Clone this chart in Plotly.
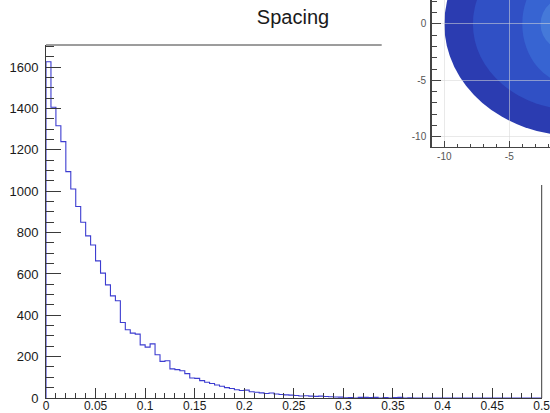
import plotly.graph_objects as go

# ---------------- data ----------------
bin_low = 0.0
bin_high = 0.5
n_bins = 100
counts = [
    1626, 1406, 1317, 1240, 1095, 1011, 926, 850, 784, 740,
    663, 604, 547, 494, 470, 365, 330, 314, 309, 257,
    246, 262, 209, 177, 180, 141, 137, 132, 118, 97,
    95, 84, 76, 70, 63, 57, 50, 46, 40, 36,
    38, 30, 28, 25, 22, 24, 19, 17, 15, 14,
    12, 10, 11, 9, 8, 9, 7, 6, 5, 4,
    1, 2, 0, 3, 3, 2, 3, 0, 2, 0,
    2, 3, 0, 1, 0, 0, 0, 0, 0, 0,
    0, 0, 0, 0, 0, 0, 0, 0, 0, 0,
    0, 0, 0, 0, 0, 0, 0, 0, 0, 0,
]
x_tickvals = [0, 0.05, 0.1, 0.15, 0.2, 0.25, 0.3, 0.35, 0.4, 0.45, 0.5]
x_ticktext = ["0", "0.05", "0.1", "0.15", "0.2", "0.25", "0.3", "0.35", "0.4", "0.45", "0.5"]
y_tickvals = [0, 200, 400, 600, 800, 1000, 1200, 1400, 1600]
y_ticktext = ["0", "200", "400", "600", "800", "1000", "1200", "1400", "1600"]
title_text = "Spacing"

# inset (2D contour, partly visible): band half-widths (x, y) and colours
inset_rx = [10.0, 7.8, 4.0, 2.6]
inset_ry = [9.9, 7.6, 5.4, 2.6]
inset_colors = ["#2b3cb1", "#3050c5", "#3764d2", "#4579d9"]
inset_tickvals = [-10, -5, 0]
inset_ticktext = ["-10", "-5", "0"]

# ---------------- build ----------------
width = (bin_high - bin_low) / n_bins
edges = [bin_low + i * width for i in range(n_bins)]
xs = [bin_low] + edges + [bin_high, bin_high]
ys = [0] + counts + [counts[-1], 0]

FONT = "Liberation Sans, Arial, sans-serif"
AX = "#3a3a3a"

fig = go.Figure()
fig.add_trace(go.Scatter(
    x=xs, y=ys, mode="lines", line=dict(color="#3c3cd0", width=1.1, shape="hv"),
    showlegend=False, hoverinfo="skip", xaxis="x", yaxis="y",
))
# invisible trace so the inset axes are drawn
fig.add_trace(go.Scatter(x=[-20], y=[-20], mode="markers", marker=dict(opacity=0),
                         showlegend=False, xaxis="x2", yaxis="y2", hoverinfo="skip"))

ymax = max(counts) * 1.05

fig.update_layout(
    width=550, height=413, autosize=False,
    margin=dict(l=46, r=0, t=0, b=15, pad=0),
    paper_bgcolor="white", plot_bgcolor="rgba(0,0,0,0)",
    font=dict(family=FONT, color="#1a1a1a"),
    title=dict(text=title_text, x=293 / 550, xanchor="center", y=1 - 16.5 / 413,
               yanchor="middle", font=dict(size=20, family=FONT, color="#1a1a1a")),
    xaxis=dict(
        domain=[0, (541.7 - 46) / 504], range=[bin_low, bin_high],
        showline=True, linecolor=AX, linewidth=1, mirror=False,
        showgrid=False, zeroline=False,
        tickmode="array", tickvals=x_tickvals, ticktext=x_ticktext,
        ticks="inside", ticklen=10, tickcolor=AX, tickwidth=1,
        tickfont=dict(size=12, family=FONT, color="#1a1a1a"),
        ticklabelstandoff=-3, ticklabeloverflow="allow",
        minor=dict(dtick=0.01, tick0=0, ticks="inside", ticklen=5, tickcolor=AX, showgrid=False),
        automargin=False, fixedrange=True,
    ),
    yaxis=dict(
        domain=[0, (398 - 45) / 398], range=[0, ymax],
        showline=True, linecolor=AX, linewidth=1, mirror=False,
        showgrid=False, zeroline=False,
        tickmode="array", tickvals=y_tickvals, ticktext=y_ticktext,
        ticks="inside", ticklen=15, tickcolor=AX, tickwidth=1,
        tickfont=dict(size=13, family=FONT, color="#1a1a1a"),
        ticklabelstandoff=4,
        minor=dict(dtick=50, tick0=0, ticks="inside", ticklen=8, tickcolor=AX, showgrid=False),
        automargin=False, fixedrange=True,
    ),
    xaxis2=dict(
        domain=[(431.7 - 46) / 504, 1], range=[-10.97, -1.87], anchor="y2",
        showline=True, linecolor="#444", linewidth=1.5,
        showgrid=True, gridcolor="rgba(215,215,215,0.55)", gridwidth=1, zeroline=False,
        tickmode="array", tickvals=inset_tickvals, ticktext=inset_ticktext,
        ticks="inside", ticklen=6, tickcolor="#444", tickwidth=1,
        tickfont=dict(size=10, family=FONT, color="#555"),
        minor=dict(dtick=1, tick0=0, ticks="inside", ticklen=3, tickcolor="#444", showgrid=False),
        layer="above traces", automargin=False, fixedrange=True,
    ),
    yaxis2=dict(
        domain=[(398 - 146.7) / 398, 1], range=[-10.88, 2.12], anchor="x2",
        showline=True, linecolor="#444", linewidth=1.5,
        showgrid=True, gridcolor="rgba(215,215,215,0.55)", gridwidth=1, zeroline=False,
        tickmode="array", tickvals=inset_tickvals, ticktext=inset_ticktext,
        ticks="inside", ticklen=9, tickcolor="#444", tickwidth=1,
        tickfont=dict(size=10, family=FONT, color="#555"),
        ticklabelstandoff=2,
        minor=dict(dtick=1, tick0=0, ticks="inside", ticklen=5, tickcolor="#444", showgrid=False),
        layer="above traces", automargin=False, fixedrange=True,
    ),
)

shapes = []
# partial frame lines (the rest is hidden behind the inset pad)
shapes.append(dict(type="line", xref="x domain", yref="y domain",
                   x0=0, x1=(381.7 - 46) / 495.7, y0=1, y1=1,
                   line=dict(color=AX, width=1)))
shapes.append(dict(type="line", xref="x domain", yref="y domain",
                   x0=1, x1=1, y0=0, y1=(398 - 185) / 353,
                   line=dict(color=AX, width=1)))
# inset filled contour bands
for rx, ry, c in zip(inset_rx, inset_ry, inset_colors):
    shapes.append(dict(type="circle", xref="x2", yref="y2", layer="below",
                       x0=-rx, x1=rx, y0=-ry, y1=ry,
                       fillcolor=c, line=dict(width=0)))
fig.update_layout(shapes=shapes)

fig.write_html(
    "out.html",
    config={"displayModeBar": False, "staticPlot": True},
    post_script="document.body.style.margin='0';document.body.style.padding='0';"
                "document.body.style.overflow='hidden';",
)
